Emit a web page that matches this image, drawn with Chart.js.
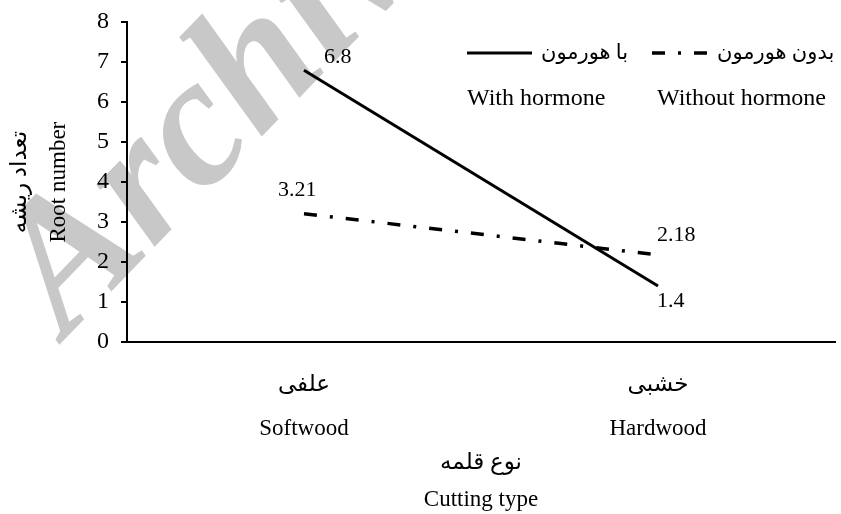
<!DOCTYPE html>
<html>
<head>
<meta charset="utf-8">
<script src="https://cdn.jsdelivr.net/npm/chart.js@4.4.1/dist/chart.umd.min.js"></script>
<style>
  html, body { margin: 0; padding: 0; background: #fff; }
  #wrap { width: 841px; height: 514px; position: relative; }
</style>
</head>
<body>
<div id="wrap"><canvas id="chart"></canvas></div>
<script>
// 데이터
const categoriesFa = ['علفی', 'خشبی'];
const categoriesEn = ['Softwood', 'Hardwood'];
const withHormone = [6.8, 1.4];
const withoutHormone = [3.21, 2.18];
const withLabel = ['با هورمون', 'With hormone'];
const withoutLabel = ['بدون هورمون', 'Without hormone'];
const yTitle = ['تعداد ریشه', 'Root number'];
const xTitle = ['نوع قلمه', 'Cutting type'];
const watermark = 'Archive of SID';

const SERIF = '"Liberation Serif", "Times New Roman", "DejaVu Sans", serif';

/** 배경 워터마크 */
const watermarkPlugin = {
  id: 'watermark',
  beforeDraw(chart) {
    const ctx = chart.ctx;
    ctx.save();
    ctx.translate(66, 338);
    ctx.rotate(-0.8);
    ctx.font = `italic bold 185px ${SERIF}`;
    ctx.fillStyle = '#c8c8c8';
    ctx.textBaseline = 'alphabetic';
    ctx.fillText(watermark, 0, 0);
    ctx.restore();
  },
};

/** 점 옆 값 라벨 */
const valueLabelPlugin = {
  id: 'valueLabels',
  afterDatasetsDraw(chart) {
    const ctx = chart.ctx;
    // [dx, dy] per dataset / point (text left-aligned)
    const offsets = [
      [[20, -13], [-1, 15]],
      [[-26, -23], [-1, -20]],
    ];
    ctx.save();
    ctx.font = `22px ${SERIF}`;
    ctx.fillStyle = '#000';
    ctx.textAlign = 'left';
    ctx.textBaseline = 'middle';
    chart.data.datasets.forEach((ds, di) => {
      const meta = chart.getDatasetMeta(di);
      meta.data.forEach((pt, i) => {
        const [dx, dy] = offsets[di][i];
        ctx.fillText(String(ds.data[i]), pt.x + dx, pt.y + dy);
      });
    });
    ctx.restore();
  },
};

/** 두 줄(페르시아어/영어) 범례 */
const legendPlugin = {
  id: 'bilingualLegend',
  afterDraw(chart) {
    const ctx = chart.ctx;
    const items = [
      { x: 467, sample: 65 },
      { x: 652, sample: 56 },
    ];
    ctx.save();
    ctx.fillStyle = '#000';
    ctx.textBaseline = 'middle';
    ctx.textAlign = 'left';
    chart.data.datasets.forEach((ds, i) => {
      const it = items[i];
      ctx.strokeStyle = ds.borderColor;
      ctx.lineWidth = ds.borderWidth;
      ctx.setLineDash(ds.borderDash || []);
      ctx.beginPath();
      ctx.moveTo(it.x, 53);
      ctx.lineTo(it.x + it.sample, 53);
      ctx.stroke();
      ctx.setLineDash([]);
      ctx.font = `21px ${SERIF}`;
      ctx.fillText(ds.label[0], it.x + it.sample + 9, 53);
      ctx.font = `24px ${SERIF}`;
      ctx.fillText(ds.label[1], it.x + (i === 1 ? 5 : 0), 99);
    });
    ctx.restore();
  },
};

const chart = new Chart(document.getElementById('chart'), {
  type: 'line',
  data: {
    labels: categoriesFa.map((fa, i) => [fa, categoriesEn[i]]),
    datasets: [
      {
        label: withLabel,
        data: withHormone,
        borderColor: '#000',
        borderWidth: 3,
        pointRadius: 0,
        tension: 0,
      },
      {
        label: withoutLabel,
        data: withoutHormone,
        borderColor: '#000',
        borderWidth: 3.5,
        borderDash: [13, 13, 3, 13],
        pointRadius: 0,
        tension: 0,
      },
    ],
  },
  options: {
    responsive: true,
    maintainAspectRatio: false,
    animation: false,
    layout: { padding: { left: 0, right: 6, top: 0, bottom: 0 } },
    plugins: { legend: { display: false }, tooltip: { enabled: false } },
    scales: {
      x: {
        offset: true,
        grid: { display: false },
        border: { display: true, color: '#000', width: 2 },
        ticks: {
          color: '#000',
          padding: 13,
          font: { family: SERIF, size: 23, lineHeight: 1.9 },
        },
        title: {
          display: true,
          text: xTitle,
          color: '#000',
          padding: { top: 0, bottom: -4 },
          font: { family: SERIF, size: 23, lineHeight: 1.6 },
        },
        afterFit(scale) { scale.height = 172; },
      },
      y: {
        min: 0,
        max: 8,
        grid: { drawOnChartArea: false, drawTicks: true, tickLength: 6, color: '#000', lineWidth: 2 },
        border: { display: true, color: '#000', width: 2 },
        ticks: {
          stepSize: 1,
          color: '#000',
          padding: 12,
          font: { family: SERIF, size: 24, lineHeight: 0.85 },
        },
        title: {
          display: true,
          text: yTitle,
          color: '#000',
          padding: { top: 0, bottom: 0 },
          font: { family: SERIF, size: 23, lineHeight: 1.7 },
        },
        afterFit(scale) { scale.width = 127; },
      },
    },
  },
  plugins: [watermarkPlugin, valueLabelPlugin, legendPlugin],
});
</script>
</body>
</html>
